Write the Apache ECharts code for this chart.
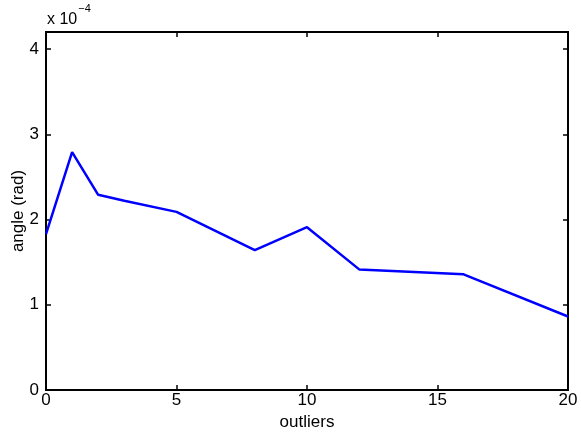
<!DOCTYPE html>
<html>
<head>
<meta charset="utf-8">
<script src="https://cdn.jsdelivr.net/npm/echarts@6/dist/echarts.min.js"></script>
<style>html,body{margin:0;padding:0;background:#fff}#c{width:581px;height:437px}</style>
</head>
<body>
<div id="c"></div>
<script>
const outliers = [0, 1, 2, 3, 5, 8, 10, 12, 16, 20];
const angle = [1.83e-4, 2.79e-4, 2.29e-4, 2.22e-4, 2.09e-4, 1.64e-4, 1.91e-4, 1.415e-4, 1.357e-4, 0.862e-4];
const xTicks = [0, 5, 10, 15, 20];
const yTicks = [0, 1, 2, 3, 4];

const chart = echarts.init(document.getElementById('c'));
const font = 'Liberation Sans, Arial, Helvetica, sans-serif';
const axisLine = {show: true, onZero: false, lineStyle: {color: '#000', width: 2}};
const tick = {show: true, inside: true, length: 5, lineStyle: {color: '#000', width: 1.5}};
const yFmt = v => { const k = Math.round(v * 1e4); return (Math.abs(v * 1e4 - k) < 1e-6 && yTicks.includes(k)) ? String(k) : ''; };
chart.setOption({
  animation: false,
  grid: {left: 46, right: 13, top: 32, bottom: 47, containLabel: false, outerBoundsMode: 'none',
    show: true, borderColor: '#000', borderWidth: 2, backgroundColor: 'transparent'},
  xAxis: [{
    type: 'value', min: 0, max: 20, interval: 5, position: 'bottom',
    name: 'outliers', nameLocation: 'middle', nameGap: 24, nameMoveOverlap: false,
    nameTextStyle: {color: '#000', fontSize: 17, fontFamily: font},
    axisLine: axisLine, axisTick: tick, splitLine: {show: false},
    axisLabel: {color: '#000', fontSize: 17, fontFamily: font, margin: 2,
      formatter: v => xTicks.includes(v) ? String(v) : ''}
  }, {
    type: 'value', min: 0, max: 20, interval: 5, position: 'top',
    axisLine: axisLine, axisTick: tick, splitLine: {show: false}, axisLabel: {show: false}
  }],
  yAxis: [{
    type: 'value', min: 0, max: 4.2e-4, interval: 1e-4, position: 'left',
    name: 'angle (rad)', nameLocation: 'middle', nameGap: 19, nameMoveOverlap: false,
    nameTextStyle: {color: '#000', fontSize: 17, fontFamily: font},
    axisLine: axisLine, axisTick: tick, splitLine: {show: false},
    axisLabel: {color: '#000', fontSize: 17, fontFamily: font, margin: 7, formatter: yFmt}
  }, {
    type: 'value', min: 0, max: 4.2e-4, interval: 1e-4, position: 'right',
    axisLine: axisLine, axisTick: tick, splitLine: {show: false}, axisLabel: {show: false}
  }],
  graphic: [{
    type: 'text', left: 47, top: 3,
    style: {
      text: '{a|x 10}{b|−4}',
      rich: {
        a: {fontSize: 16, fontFamily: font, fill: '#000', verticalAlign: 'bottom', padding: [9, 0, 0, 0]},
        b: {fontSize: 11, fontFamily: font, fill: '#000', verticalAlign: 'top', padding: [0, 0, 0, 1]}
      }
    }
  }],
  series: [{
    type: 'line', xAxisIndex: 0, yAxisIndex: 0,
    data: outliers.map((x, i) => [x, angle[i]]),
    showSymbol: false, lineStyle: {color: '#0000ff', width: 2.5}, itemStyle: {color: '#0000ff'}
  }, {
    type: 'line', xAxisIndex: 1, yAxisIndex: 1, data: [], silent: true
  }]
});
</script>
</body>
</html>
